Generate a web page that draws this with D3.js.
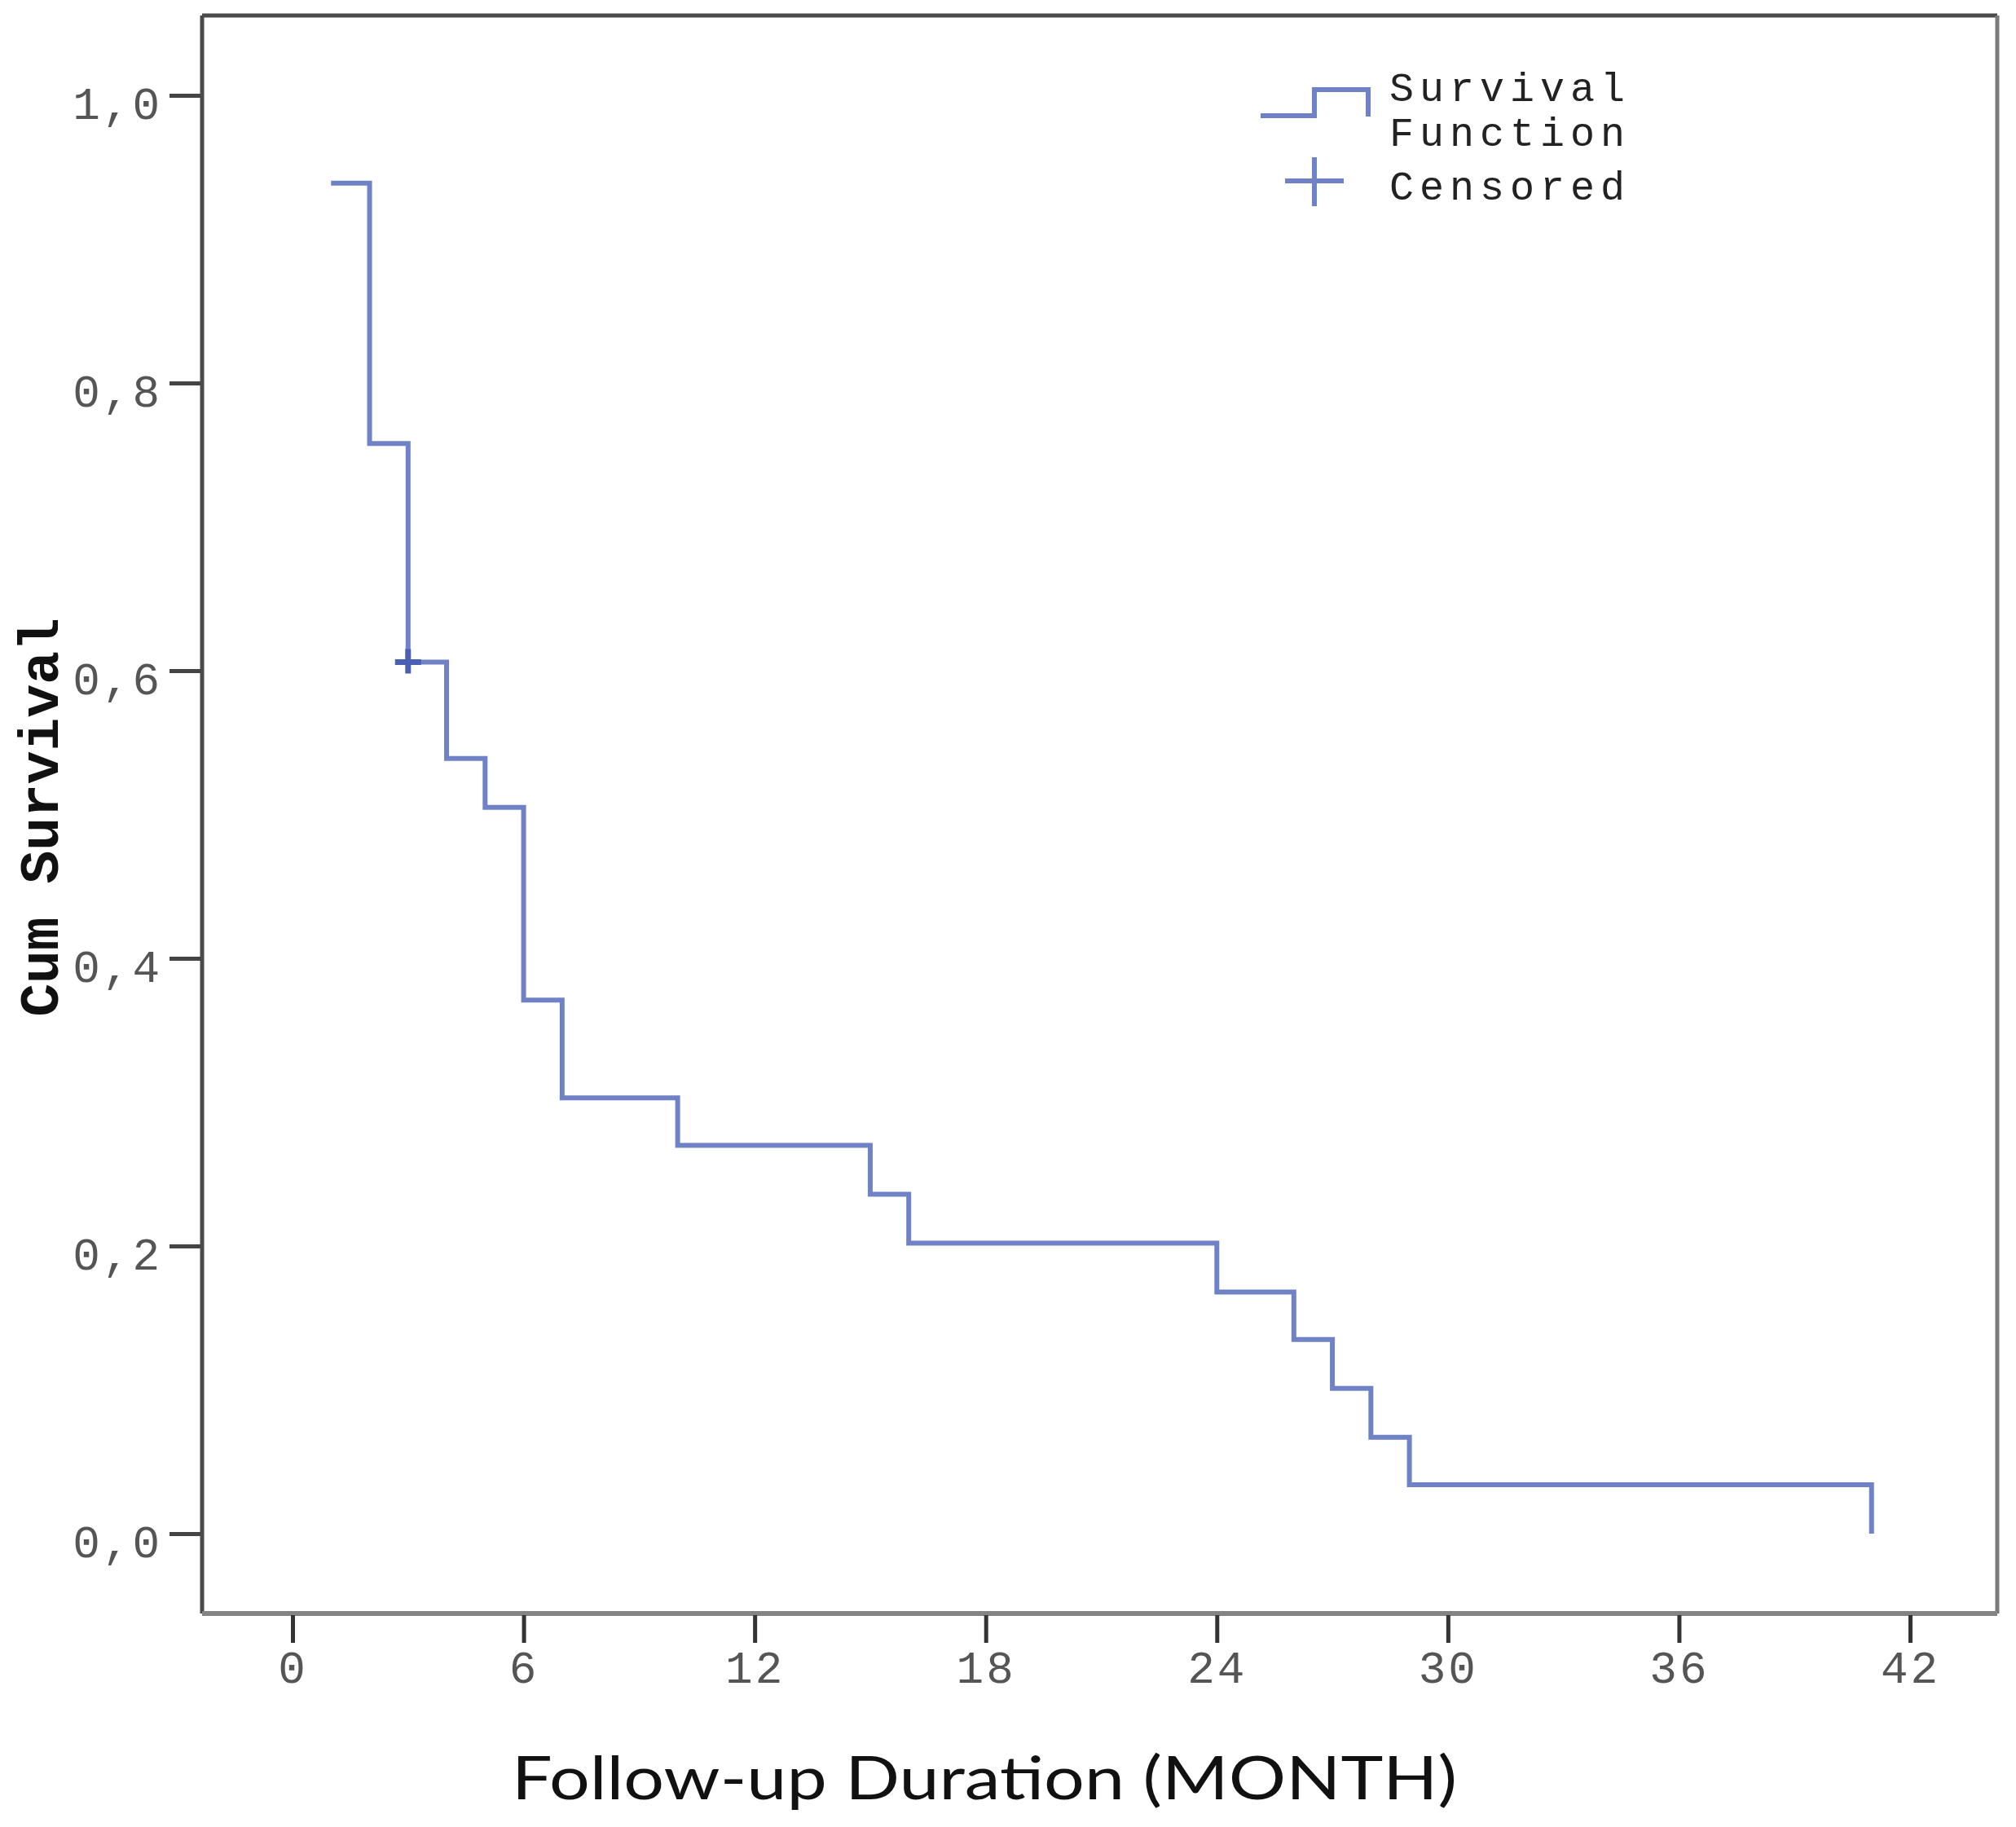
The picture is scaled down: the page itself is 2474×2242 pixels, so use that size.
<!DOCTYPE html>
<html>
<head>
<meta charset="utf-8">
<script src="https://cdn.jsdelivr.net/npm/d3@7"></script>
<style>
  body { margin: 0; background: white; }
  svg { display: block; }
</style>
</head>
<body>
<div id="chart"></div>
<script>
// data
let months = [1, 2, 3, 4, 5, 6, 7, 10, 15, 16, 24, 26, 27, 28, 29, 41]
let survival = [0.939, 0.758, 0.606, 0.539, 0.505, 0.371, 0.303, 0.270, 0.236, 0.202, 0.168, 0.135, 0.101, 0.067, 0.034, 0.000]
let censoredMonths = [3]
let censoredSurvival = [0.606]
let xTicks = [0, 6, 12, 18, 24, 30, 36, 42]
let yTicks = [0, 0.2, 0.4, 0.6, 0.8, 1.0]
let legendLabels = ['Survival', 'Function', 'Censored']

let width = 2474,
    height = 2242,
    lineColor = '#6f82c6',
    monoFont = '"Liberation Mono", "DejaVu Sans Mono", monospace'

// frame of the plot area
let frame = {left: 248, top: 19, right: 2451, bottom: 1980}

let x = d3.scaleLinear().domain([0, 42]).range([359, 2344])
let y = d3.scaleLinear().domain([0, 1]).range([1882, 117])

let svg = d3.select('#chart')
  .append('svg')
  .attr('width', width)
  .attr('height', height)

svg.append('rect')
  .attr('width', width)
  .attr('height', height)
  .attr('fill', 'white')

// box lines: left/top darker, bottom/right lighter gray
svg.append('line')
  .attr('x1', frame.left).attr('y1', frame.top)
  .attr('x2', frame.right).attr('y2', frame.top)
  .attr('stroke', '#4a4a4a').attr('stroke-width', 5)
svg.append('line')
  .attr('x1', frame.left).attr('y1', frame.top)
  .attr('x2', frame.left).attr('y2', frame.bottom)
  .attr('stroke', '#4a4a4a').attr('stroke-width', 5)
svg.append('line')
  .attr('x1', frame.right).attr('y1', frame.top)
  .attr('x2', frame.right).attr('y2', frame.bottom)
  .attr('stroke', '#7a7a7a').attr('stroke-width', 5)
svg.append('line')
  .attr('x1', frame.left).attr('y1', frame.bottom)
  .attr('x2', frame.right).attr('y2', frame.bottom)
  .attr('stroke', '#848484').attr('stroke-width', 6)

// x axis
let xAxis = svg.append('g')
  .attr('transform', 'translate(0,' + (frame.bottom + 2) + ')')
  .call(d3.axisBottom(x).tickValues(xTicks).tickSize(34).tickFormat(d3.format('d')))
xAxis.select('.domain').remove()
xAxis.selectAll('line').attr('stroke', '#333').attr('stroke-width', 5)
xAxis.selectAll('text')
  .attr('y', 83)
  .attr('dy', 0)
  .style('font-family', monoFont)
  .style('font-size', '56px')
  .style('letter-spacing', '3px')
  .attr('fill', '#555')

// y axis with comma decimals
let yAxis = svg.append('g')
  .attr('transform', 'translate(' + (frame.left - 2) + ',0)')
  .call(d3.axisLeft(y).tickValues(yTicks).tickSize(38).tickPadding(9)
    .tickFormat(function(d) { return d3.format('.1f')(d).replace('.', ',') }))
yAxis.select('.domain').remove()
yAxis.selectAll('line').attr('stroke', '#444').attr('stroke-width', 5)
yAxis.selectAll('text')
  .attr('dy', 28)
  .style('font-family', monoFont)
  .style('font-size', '56px')
  .style('letter-spacing', '3px')
  .attr('fill', '#555')

// survival step curve
let points = months.map(function(m, i) { return [m, survival[i]] })
let line = d3.line()
  .x(function(d) { return x(d[0]) })
  .y(function(d) { return y(d[1]) })
  .curve(d3.curveStepAfter)

svg.append('path')
  .datum(points)
  .attr('d', line)
  .attr('fill', 'none')
  .attr('stroke', lineColor)
  .attr('stroke-width', 6)

// censored marks
censoredMonths.forEach(function(m, i) {
  let cx = x(m), cy = y(censoredSurvival[i])
  svg.append('path')
    .attr('d', 'M' + (cx - 16) + ',' + cy + 'H' + (cx + 16) + 'M' + cx + ',' + (cy - 16) + 'V' + (cy + 14))
    .attr('stroke', '#4b5fb3')
    .attr('stroke-width', 7)
})

// legend
let legend = svg.append('g')
legend.append('path')
  .attr('d', 'M1547,142H1613V110H1679V143')
  .attr('fill', 'none')
  .attr('stroke', lineColor)
  .attr('stroke-width', 6)
legend.append('path')
  .attr('d', 'M1577,222H1649M1613,193V253')
  .attr('stroke', lineColor)
  .attr('stroke-width', 6)
legend.selectAll('text')
  .data(legendLabels)
  .enter()
  .append('text')
  .attr('x', 1705)
  .attr('y', function(d, i) { return [124, 179, 245][i] })
  .text(function(d) { return d })
  .style('font-family', monoFont)
  .style('font-size', '50px')
  .style('letter-spacing', '7px')
  .attr('fill', '#222')

// axis titles
svg.append('text')
  .attr('transform', 'translate(71,1003) rotate(-90)')
  .attr('text-anchor', 'middle')
  .text('Cum Survival')
  .style('font-family', monoFont)
  .style('font-size', '68px')
  .style('font-weight', 'bold')
  .attr('fill', '#111')

svg.append('text')
  .attr('x', 1208)
  .attr('y', 2208)
  .attr('text-anchor', 'middle')
  .attr('textLength', 1160)
  .attr('lengthAdjust', 'spacingAndGlyphs')
  .text('Follow-up Duration (MONTH)')
  .style('font-family', 'Lato, "Open Sans", sans-serif')
  .style('font-size', '74px')
  .attr('fill', '#111')
</script>
</body>
</html>
